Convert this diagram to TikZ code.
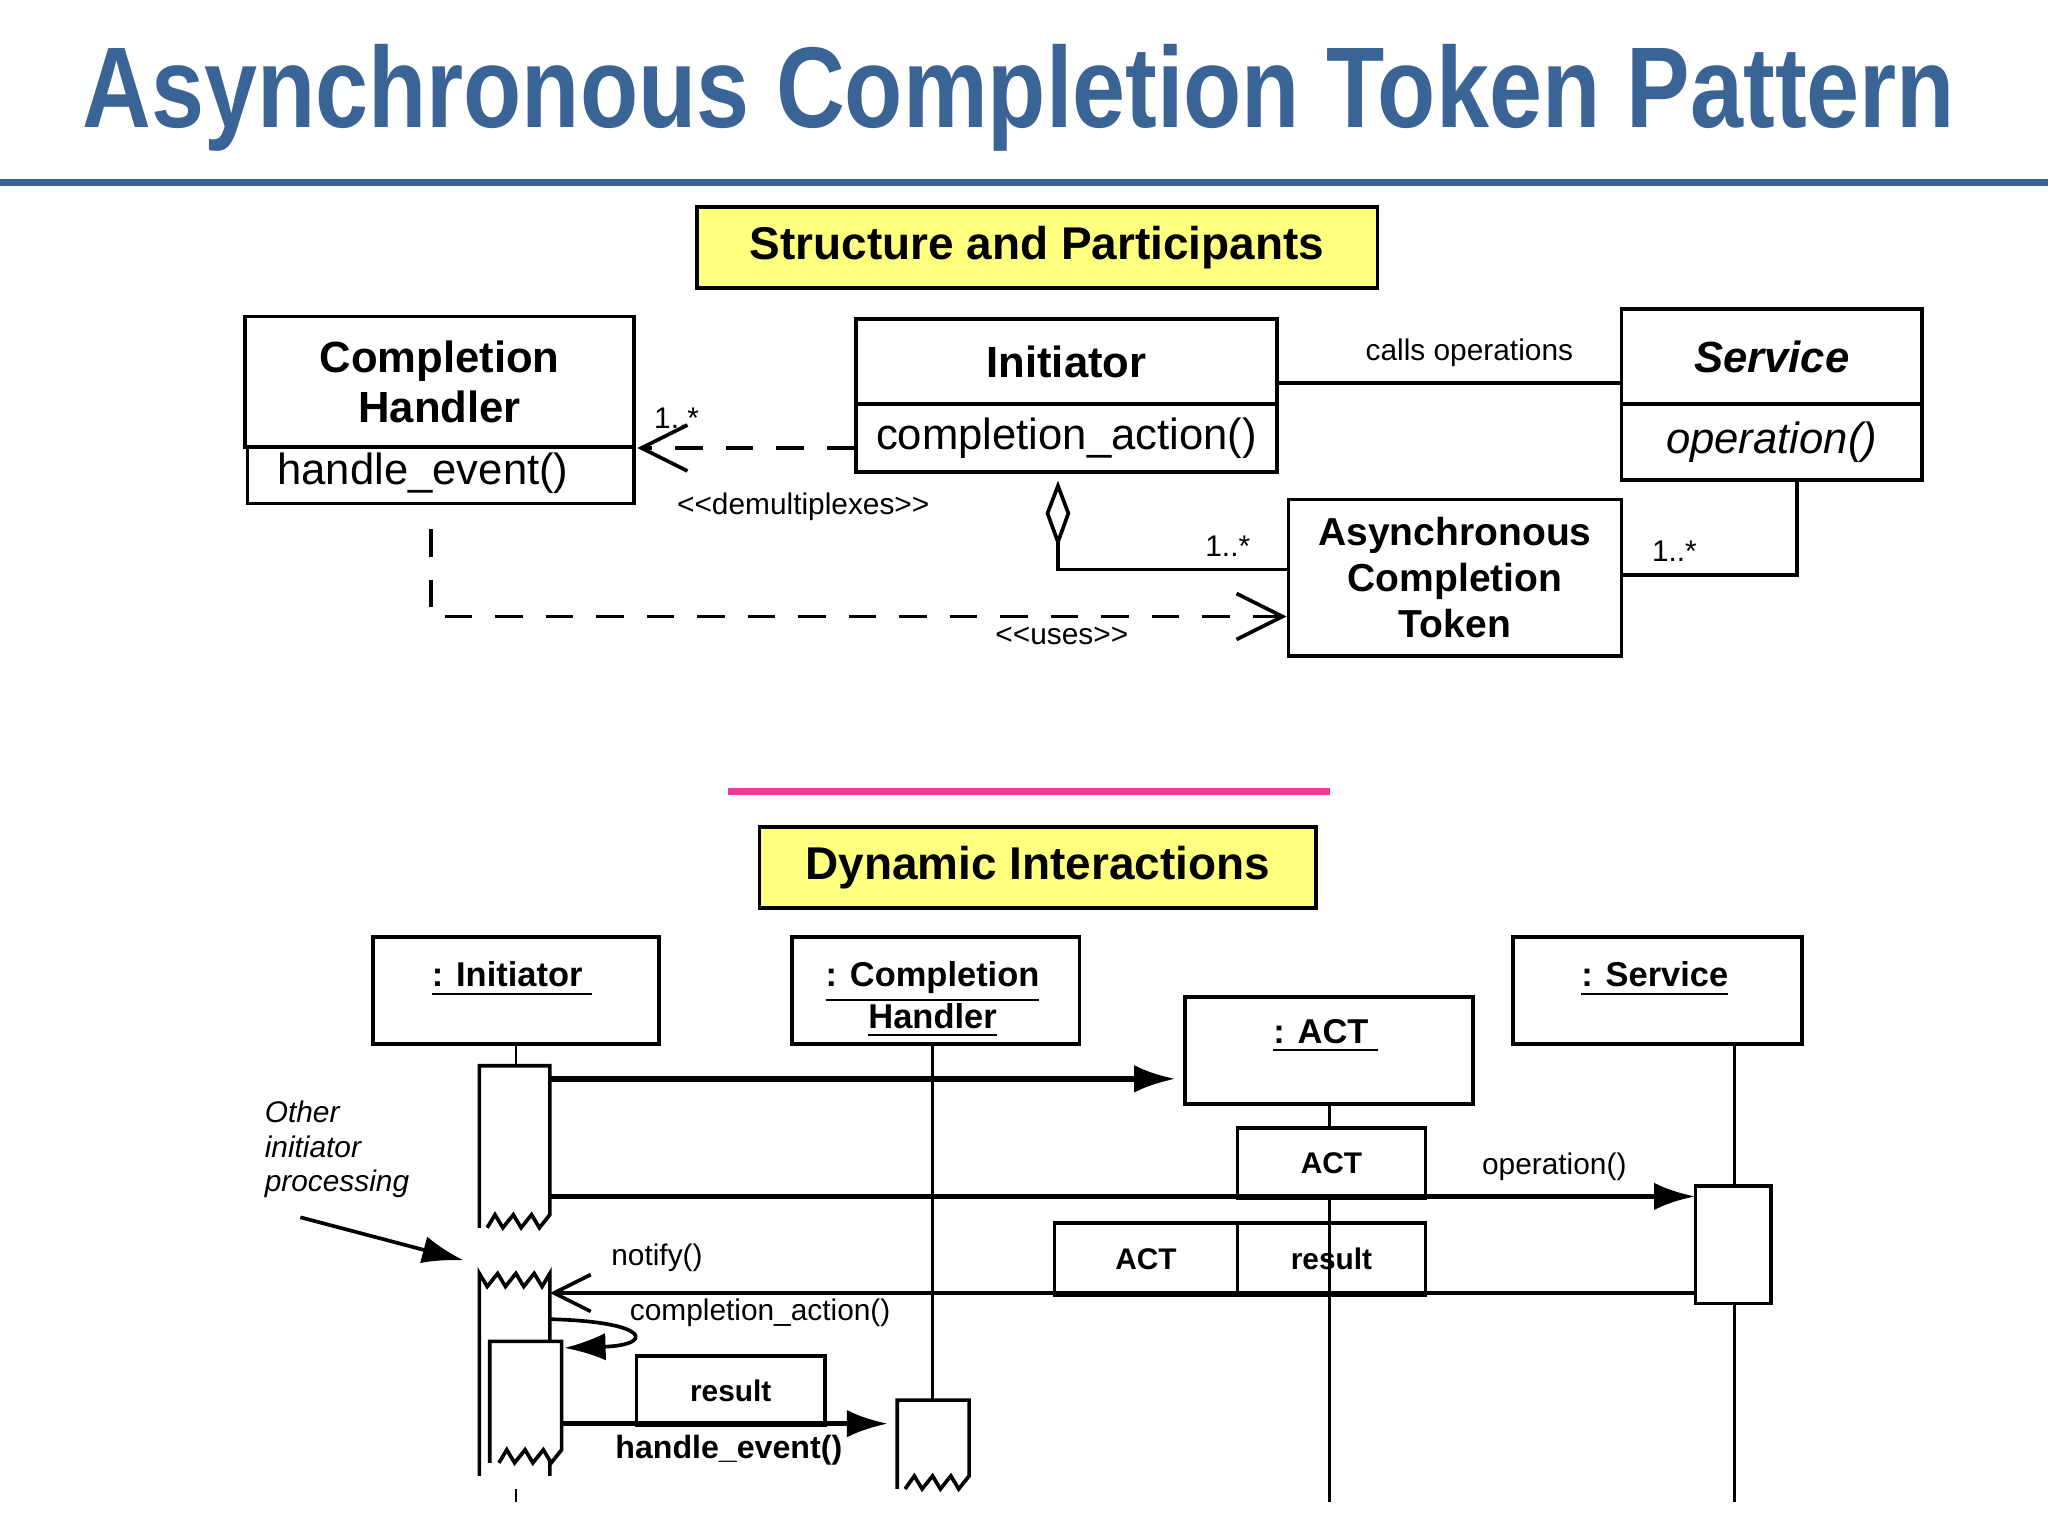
\documentclass[tikz,border=0pt]{standalone}
\usepackage{fontspec}
\setmainfont{Liberation Sans}
\usetikzlibrary{arrows.meta,positioning}
\definecolor{titleblue}{RGB}{58,99,150}
\definecolor{noteyellow}{RGB}{255,255,128}
\definecolor{rulepink}{RGB}{240,57,154}
\tikzset{
  box/.style={draw,thick,inner sep=0pt,anchor=north west},
  head/.style={box,fill=noteyellow,font=\fontsize{10}{12}\selectfont\bfseries},
  cls/.style={font=\fontsize{9.5}{11}\selectfont\bfseries,align=center},
  meth/.style={font=\fontsize{9.5}{11}\selectfont},
  lbl/.style={font=\fontsize{6.5}{7}\selectfont},
  obj/.style={font=\fontsize{7.5}{9}\selectfont\bfseries,align=center},
  umldash/.style={thick,dash pattern=on 6pt off 5pt},
  msg/.style={very thick,-{Latex[length=9pt,width=6pt]}},
}
\begin{document}
\begin{tikzpicture}[x=0.01cm,y=-0.01cm]
\useasboundingbox (0,0) rectangle (1568,1176);
% title
\node (title) at (780,75) {\color{titleblue}\fontsize{25}{28}\selectfont\bfseries\scalebox{0.83}[1]{Asynchronous Completion Token Pattern}};
\draw[titleblue,line width=1.5pt] (0,140) -- (1568,140);
\node[head,minimum width=5.21cm,minimum height=0.62cm] (h1) at (532,157) {Structure and Participants};
% classes
\node[box,minimum width=2.98cm,minimum height=1cm] (ch) at (186,241) {};
\node[cls] at (ch.center) {Completion\\Handler};
\node[box,minimum width=2.96cm,minimum height=0.43cm] (chm) at (188,341) {};
\node[meth,anchor=west] at (200,362) {handle\_event()};
\node[box,minimum width=3.22cm,minimum height=0.65cm] (ini) at (654,243) {};
\node[cls] at (ini.center) {Initiator};
\node[box,minimum width=3.22cm,minimum height=0.52cm] (inim) at (654,308) {};
\node[meth] at (inim.center) {completion\_action()};
\node[box,minimum width=2.3cm,minimum height=0.73cm] (srv) at (1240,235) {};
\node[cls] at (srv.center) {\itshape Service};
\node[box,minimum width=2.3cm,minimum height=0.58cm] (srvm) at (1240,308) {};
\node[meth] at (srvm.center) {\itshape operation()};
\node[box,minimum width=2.55cm,minimum height=1.2cm] (act) at (985,381) {};
\node[cls,font=\fontsize{8.5}{10}\selectfont\bfseries] at (act.center) {Asynchronous\\Completion\\Token};
% associations
\draw[thick] (976,293) -- (1240,293);
\node[lbl] (callsop) at (1125,270) {calls operations};
\draw[umldash,-{Straight Barb[length=10pt,width=10pt]}] (654,343) -- (488,343);
\node[lbl] (m1) at (518,320) {1..*};
\node[lbl] (demux) at (615,388) {{<}{<}demultiplexes{>}{>}};
\coordinate (agg) at (810,415);
\draw[thick,fill=white] (810,372) -- (818,393) -- (agg) -- (802,393) -- cycle;
\draw[thick] (agg) -- (810,436) -- (985,436);
\node[lbl] (m2) at (940,418) {1..*};
\draw[thick] (1376,366) -- (1376,440) -- (1240,440);
\node[lbl] (m3) at (1282,422) {1..*};
\draw[umldash,-{Straight Barb[length=10pt,width=10pt]}] (330,405) -- (330,472) -- (985,472);
\node[lbl] (uses) at (813,487) {{<}{<}uses{>}{>}};
% dynamic part
\draw[rulepink,line width=1.5pt] (557,606) -- (1018,606);
\node[head,minimum width=4.26cm,minimum height=0.62cm] (h2) at (580,632) {Dynamic Interactions};
\node[box,minimum width=2.19cm,minimum height=0.82cm] (oi) at (284,716) {};
\node[obj,anchor=north] at (392,724) {\underline{: Initiator\ }};
\node[box,minimum width=2.2cm,minimum height=0.82cm] (och) at (605,716) {};
\node[obj,anchor=north] at (714,724) {\underline{: Completion}\\\underline{Handler}};
\node[box,minimum width=2.2cm,minimum height=0.82cm] (oact) at (906,762) {};
\node[obj,anchor=north] at (1015,768) {\underline{: ACT\ }};
\node[box,minimum width=2.21cm,minimum height=0.82cm] (osrv) at (1157,716) {};
\node[obj,anchor=north] at (1267,724) {\underline{: Service}};
% lifelines
\draw[semithick] (395,798) -- (395,816) (395,1140) -- (395,1150);
\draw[semithick] (714,798) -- (714,1072);
\draw[semithick] (1018,844) -- (1018,1150);
\draw[semithick] (1328,798) -- (1328,908) (1328,998) -- (1328,1150);
% activations
\draw[thick,fill=white] (367,940) -- (367,816) -- (421,816) -- (421,930)
  -- (413,940) -- (407,930) -- (399,940) -- (393,930) -- (385,940) -- (379,930) -- (373,940);
\draw[thick,fill=white] (367,1130) -- (367,975) -- (373,985) -- (381,975) -- (387,985) -- (395,975)
  -- (401,985) -- (409,975) -- (415,985) -- (421,975) -- (421,1130);
\draw[thick,fill=white] (375,1120) -- (375,1027) -- (430,1027) -- (430,1110)
  -- (422,1120) -- (416,1110) -- (408,1120) -- (402,1110) -- (394,1120) -- (388,1110) -- (382,1120);
\draw[thick,fill=white] (1298,908) rectangle (1356,998);
\draw[thick,fill=white] (687,1140) -- (687,1072) -- (742,1072) -- (742,1130)
  -- (734,1140) -- (728,1130) -- (720,1140) -- (714,1130) -- (706,1140) -- (700,1130) -- (693,1140);
% messages
\node[box,minimum width=1.44cm,minimum height=0.54cm,fill=white] (tok1) at (946,862) {};
\node[obj,font=\fontsize{6.5}{8}\selectfont\bfseries] at (tok1.center) {ACT};
\draw[msg] (421,826) -- (900,826);
\draw[msg] (421,916) -- (1298,916);
\node[lbl] (opmsg) at (1190,893) {operation()};
\node[box,minimum width=1.4cm,minimum height=0.55cm] (tok2) at (806,935) {};
\node[obj,font=\fontsize{6.5}{8}\selectfont\bfseries] at (tok2.center) {ACT};
\node[box,minimum width=1.44cm,minimum height=0.55cm] (res1) at (946,935) {};
\node[obj,font=\fontsize{6.5}{8}\selectfont\bfseries] at (res1.center) {result};
\draw[thick,-{Straight Barb[length=8pt,width=8pt]}] (1298,990) -- (421,990);
\node[lbl] (notify) at (503,963) {notify()};
\draw[thick,-{Latex[length=9pt,width=6pt]}] (421,1010) .. controls (500,1012) and (500,1030) .. (432,1032);
\node[lbl] (ca) at (582,1005) {completion\_action()};
\node[box,minimum width=1.44cm,minimum height=0.53cm] (res2) at (486,1037) {};
\node[obj,font=\fontsize{6.5}{8}\selectfont\bfseries] at (res2.center) {result};
\draw[msg] (430,1090) -- (680,1090);
\node[obj,font=\fontsize{7}{8}\selectfont\bfseries] (he) at (558,1110) {handle\_event()};
% note
\node[lbl,font=\fontsize{6.5}{7.5}\selectfont\itshape,align=left] (note) at (258,880) {Other\\initiator\\processing};
\draw[thick,-{Latex[length=9pt,width=6pt]}] (230,932) -- (355,965);
\end{tikzpicture}
\end{document}
